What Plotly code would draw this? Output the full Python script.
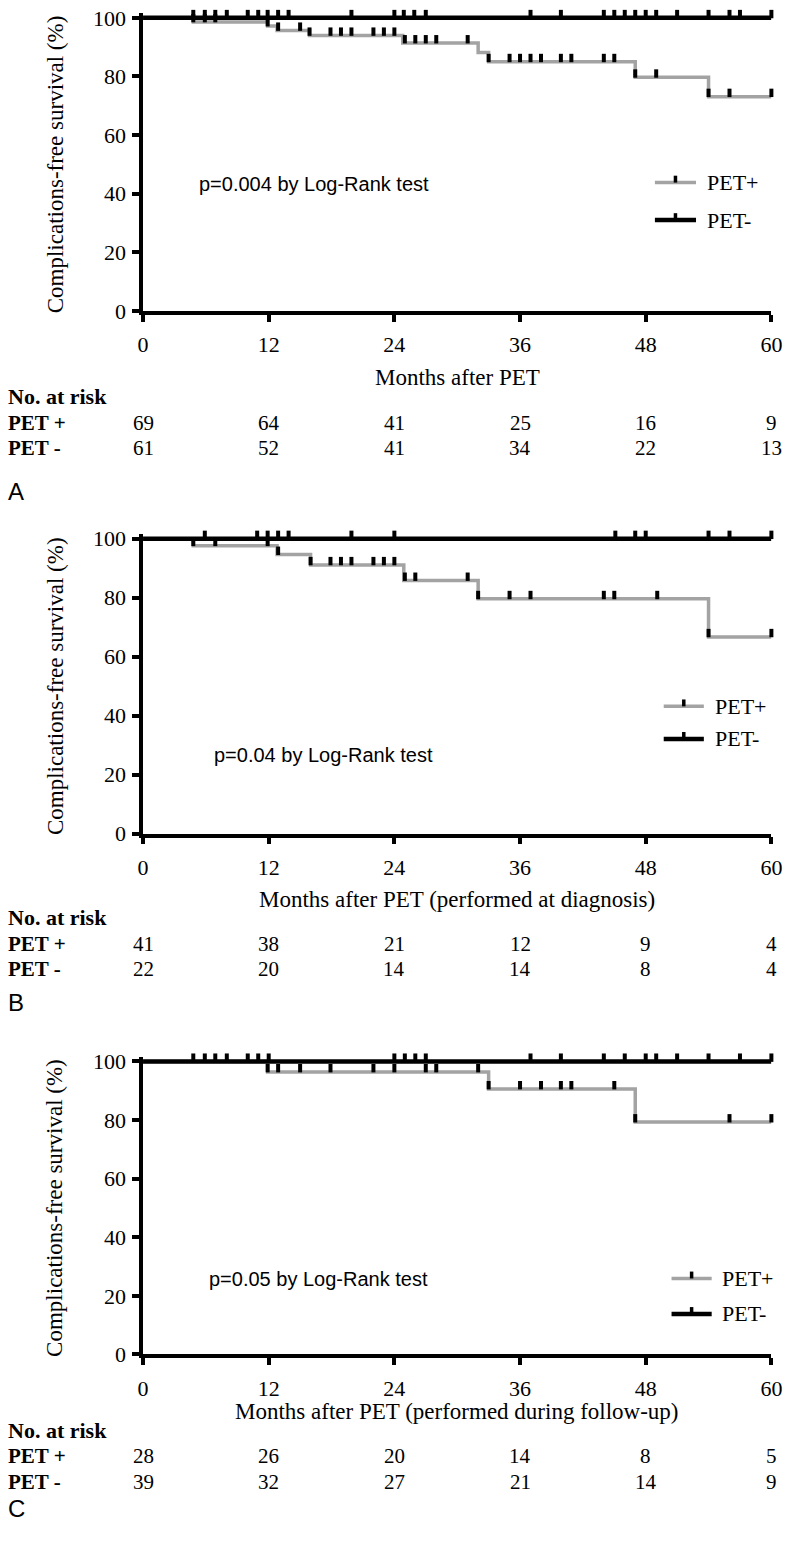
import plotly.graph_objects as go

# ---------------- DATA ----------------
month_ticks = [0, 12, 24, 36, 48, 60]
surv_ticks = [0, 20, 40, 60, 80, 100]

# Panel A
A_pos_t = [0, 4.8, 11.9, 12.8, 15.9, 24.8, 32.0, 33.0, 47.0, 54.0, 60]
A_pos_s = [100, 98.6, 97.2, 95.7, 94.0, 91.4, 88.2, 85.0, 79.7, 73.1, 73.1]
A_pos_cens = [4.8, 5.9, 6.9, 11.9, 12.9, 15.0, 15.9, 17.9, 18.9, 19.9, 22.0, 23.0, 24.0, 25.0,
              26.0, 27.0, 28.0, 31.0, 33.0, 35.0, 36.0, 37.0, 38.0, 39.9, 40.9, 44.0, 45.0,
              47.0, 49.0, 54.0, 56.0, 60.0]
A_neg_t = [0, 60]
A_neg_s = [100, 100]
A_neg_cens = [4.8, 5.9, 6.9, 8.0, 10.0, 11.0, 11.9, 12.9, 13.9, 19.9, 24.0, 24.9, 25.9, 27.0,
              37.0, 39.9, 44.0, 45.0, 46.0, 47.0, 48.0, 49.0, 51.0, 54.0, 56.0, 57.0, 60.0]
A_risk_pos = [69, 64, 41, 25, 16, 9]
A_risk_neg = [61, 52, 41, 34, 22, 13]

# Panel B
B_pos_t = [0, 4.8, 12.8, 16.0, 24.9, 32.0, 54.0, 60]
B_pos_s = [100, 97.6, 94.6, 91.1, 85.8, 79.6, 66.7, 66.7]
B_pos_cens = [4.8, 6.9, 11.9, 12.9, 16.0, 17.9, 18.9, 19.9, 22.0, 23.0, 24.0, 25.0, 26.0,
              31.0, 32.0, 35.0, 37.0, 44.0, 45.0, 49.1, 54.0, 60.0]
B_neg_t = [0, 60]
B_neg_s = [100, 100]
B_neg_cens = [5.9, 10.9, 11.9, 12.9, 13.9, 19.9, 24.0, 45.1, 47.0, 48.0, 54.0, 56.0, 60.0]
B_risk_pos = [41, 38, 21, 12, 9, 4]
B_risk_neg = [22, 20, 14, 14, 8, 4]

# Panel C
C_pos_t = [0, 11.9, 33.0, 47.0, 60]
C_pos_s = [100, 96.4, 90.6, 79.3, 79.3]
C_pos_cens = [11.9, 12.9, 15.0, 17.9, 22.0, 24.0, 27.0, 28.0, 32.0, 33.0, 36.0, 38.0, 39.9,
              40.9, 45.0, 47.0, 56.0, 60.0]
C_neg_t = [0, 60]
C_neg_s = [100, 100]
C_neg_cens = [4.8, 5.9, 6.9, 8.0, 10.0, 11.0, 12.0, 24.0, 25.0, 26.0, 27.0, 37.0, 39.9, 44.0,
              46.0, 48.0, 49.0, 51.0, 54.0, 57.0, 60.0]
C_risk_pos = [28, 26, 20, 14, 8, 5]
C_risk_neg = [39, 32, 27, 21, 14, 9]

x_titles = ["Months after PET",
            "Months after PET (performed at diagnosis)",
            "Months after PET (performed during follow-up)"]
p_texts = ["p=0.004 by Log-Rank test", "p=0.04 by Log-Rank test", "p=0.05 by Log-Rank test"]
panel_letters = ["A", "B", "C"]
y_title = "Complications-free survival (%)"
series_names = ["PET+", "PET-"]
risk_labels = ["PET +", "PET -"]

# ---------------- LAYOUT (pixels) ----------------
W, H = 800, 1543
X0, X1 = 140, 782
layout_px = [
    dict(top=10, bot=307, title=375, nar=394, pos=421, neg=446, letter=490,
         p=178, px=195, leg1=177, leg2=215, lx0=663, lx1=705, ltx=714),
    dict(top=538, bot=837, title=904, nar=922, pos=949, neg=974, letter=1008,
         p=757, px=210, leg1=708, leg2=741, lx0=672, lx1=713, ltx=722),
    dict(top=1068, bot=1365, title=1423, nar=1442, pos=1468, neg=1494, letter=1521,
         p=1289, px=205, leg1=1288, leg2=1324, lx0=680, lx1=721, ltx=729),
]

GRAY = "#a3a3a3"
SERIF = "Liberation Serif, Times New Roman, serif"
SANS = "Liberation Sans, Arial, sans-serif"
LIFT = 1.3    # censor tick raised above curve (data units)
YPAD = 1.5    # headroom above 100 so the top line/ticks are not clipped


def fy(p):
    return 1 - p / H


def fx(p):
    return p / W


def step_value(ts, ss, t):
    v = ss[0]
    for ti, si in zip(ts, ss):
        if ti <= t + 1e-9:
            v = si
    return v


panels = [
    (A_pos_t, A_pos_s, A_pos_cens, A_neg_t, A_neg_s, A_neg_cens, A_risk_pos, A_risk_neg),
    (B_pos_t, B_pos_s, B_pos_cens, B_neg_t, B_neg_s, B_neg_cens, B_risk_pos, B_risk_neg),
    (C_pos_t, C_pos_s, C_pos_cens, C_neg_t, C_neg_s, C_neg_cens, C_risk_pos, C_risk_neg),
]

fig = go.Figure()
annotations = []
shapes = []
mark = dict(symbol="line-ns", size=6, line=dict(color="black", width=4))

for i, (pt, ps, pc, nt, ns, nc, rp, rn) in enumerate(panels):
    sfx = "" if i == 0 else str(i + 1)
    xa, ya = "x" + sfx, "y" + sfx
    L = layout_px[i]
    ppu = (L["bot"] - L["top"]) / 100.0

    fig.add_trace(go.Scatter(x=pt, y=ps, mode="lines", line=dict(color=GRAY, width=3.5, shape="hv"),
                             xaxis=xa, yaxis=ya, showlegend=False, cliponaxis=False, hoverinfo="skip",
                             name=series_names[0]))
    fig.add_trace(go.Scatter(x=nt, y=ns, mode="lines", line=dict(color="black", width=4.5, shape="hv"),
                             xaxis=xa, yaxis=ya, showlegend=False, cliponaxis=False, hoverinfo="skip",
                             name=series_names[1]))
    fig.add_trace(go.Scatter(x=pc, y=[step_value(pt, ps, t) + LIFT for t in pc], mode="markers",
                             marker=mark, xaxis=xa, yaxis=ya, showlegend=False, cliponaxis=False,
                             hoverinfo="skip"))
    fig.add_trace(go.Scatter(x=nc, y=[step_value(nt, ns, t) + LIFT for t in nc], mode="markers",
                             marker=mark, xaxis=xa, yaxis=ya, showlegend=False, cliponaxis=False,
                             hoverinfo="skip"))

    axis_common = dict(showline=True, linewidth=3.5, linecolor="black", mirror=False,
                       ticks="outside", ticklen=7, tickwidth=3.5, tickcolor="black",
                       showgrid=False, zeroline=False,
                       tickfont=dict(family=SERIF, size=22, color="black"))
    fig.update_layout(**{
        "xaxis" + sfx: dict(axis_common, domain=[fx(X0), fx(X1)], range=[0, 60],
                            tickvals=month_ticks, anchor=ya, ticklabelstandoff=4),
        "yaxis" + sfx: dict(axis_common, domain=[fy(L["bot"]), fy(L["top"] - YPAD * ppu)],
                            range=[0, 100 + YPAD], tickvals=surv_ticks, anchor=xa, ticklabelstandoff=2),
    })

    # manual legend
    cx = (L["lx0"] + L["lx1"]) / 2
    for name, col, wid, ly in ((series_names[0], GRAY, 3.5, L["leg1"]), (series_names[1], "black", 4.5, L["leg2"])):
        shapes.append(dict(type="line", xref="paper", yref="paper", x0=fx(L["lx0"]), x1=fx(L["lx1"]),
                           y0=fy(ly), y1=fy(ly), line=dict(color=col, width=wid)))
        shapes.append(dict(type="line", xref="paper", yref="paper", x0=fx(cx), x1=fx(cx),
                           y0=fy(ly), y1=fy(ly - 7), line=dict(color="black", width=3.5)))
        annotations.append(dict(text=name, x=fx(L["ltx"]), y=fy(ly), xref="paper", yref="paper",
                                showarrow=False, font=dict(family=SERIF, size=22, color="black"),
                                xanchor="left", yanchor="middle"))

    annotations.append(dict(text=y_title, x=fx(50), y=fy((L["top"] + L["bot"]) / 2), xref="paper", yref="paper",
                            textangle=-90, showarrow=False, font=dict(family=SERIF, size=23, color="black"),
                            xanchor="center", yanchor="middle"))
    annotations.append(dict(text=x_titles[i], x=fx((X0 + X1) / 2), y=fy(L["title"]), xref="paper", yref="paper",
                            showarrow=False, font=dict(family=SERIF, size=23, color="black"),
                            xanchor="center", yanchor="middle"))
    annotations.append(dict(text=p_texts[i], x=fx(L["px"]), y=fy(L["p"]), xref="paper", yref="paper",
                            showarrow=False, font=dict(family=SANS, size=20, color="black"),
                            xanchor="left", yanchor="middle"))
    annotations.append(dict(text="<b>No. at risk</b>", x=fx(0), y=fy(L["nar"]), xref="paper", yref="paper",
                            showarrow=False, font=dict(family=SERIF, size=22, color="black"),
                            xanchor="left", yanchor="middle"))
    for lab, row, yy in ((risk_labels[0], rp, L["pos"]), (risk_labels[1], rn, L["neg"])):
        annotations.append(dict(text="<b>" + lab + "</b>", x=fx(0), y=fy(yy), xref="paper", yref="paper",
                                showarrow=False, font=dict(family=SERIF, size=21, color="black"),
                                xanchor="left", yanchor="middle"))
        for m, v in zip(month_ticks, row):
            annotations.append(dict(text=str(v), x=m, y=fy(yy), xref=xa, yref="paper",
                                    showarrow=False, font=dict(family=SERIF, size=21, color="black"),
                                    xanchor="center", yanchor="middle"))
    annotations.append(dict(text=panel_letters[i], x=fx(0), y=fy(L["letter"]), xref="paper", yref="paper",
                            showarrow=False, font=dict(family=SANS, size=24, color="black"),
                            xanchor="left", yanchor="middle"))

fig.update_layout(width=W, height=H, margin=dict(l=0, r=0, t=0, b=0), showlegend=False,
                  paper_bgcolor="white", plot_bgcolor="white", annotations=annotations, shapes=shapes)

fig.write_html("out.html", config={"displayModeBar": False},
               post_script="document.body.style.margin='0';document.body.style.padding='0';")
